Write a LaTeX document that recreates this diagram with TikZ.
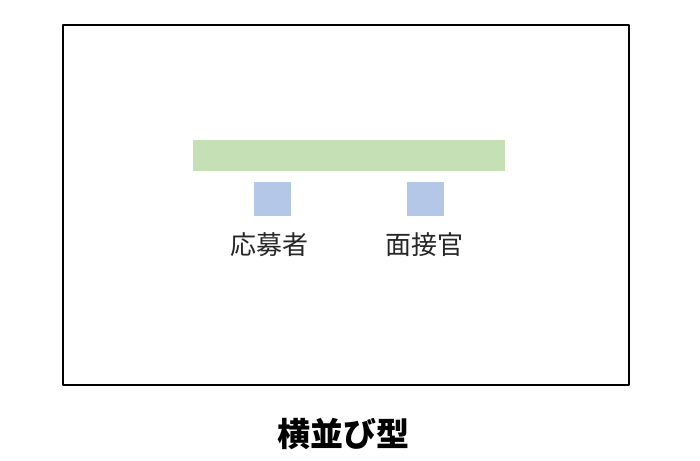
\documentclass[tikz,border=0pt]{standalone}
\usepackage{fontspec}
\newfontfamily\cjk{Noto Sans CJK JP}
\definecolor{deskcol}{HTML}{C5E0B4}
\definecolor{seatcol}{HTML}{B4C7E7}
\definecolor{labelcol}{HTML}{262626}
\begin{document}
\begin{tikzpicture}[line join=bevel,
  desk/.style={rectangle,fill=deskcol,inner sep=0pt,minimum width=312bp,minimum height=31bp},
  seat/.style={rectangle,fill=seatcol,inner sep=0pt,minimum width=37bp,minimum height=34bp},
  who/.style={text=labelcol,font=\cjk\fontsize{26bp}{29bp}\selectfont,inner sep=0pt}]
  \useasboundingbox (0bp,0bp) rectangle (700bp,461bp);
  % Frame
  \draw [line width=1.3bp] (63bp,76bp) rectangle (629bp,436bp);
  % Node: desk
  \node [desk] (desk) at (349bp,305.5bp) {};
  % Node: applicant
  \node [seat] (applicant) at (272.5bp,262bp) {};
  \node [who] (applicantlabel) at (269bp,216bp) {応募者};
  % Node: interviewer
  \node [seat] (interviewer) at (425.5bp,262bp) {};
  \node [who] (interviewerlabel) at (424bp,216bp) {面接官};
  % Caption
  \node [inner sep=0pt,font=\cjk\bfseries\fontsize{33bp}{37bp}\selectfont] (caption) at (343bp,27bp) {横並び型};
\end{tikzpicture}
\end{document}
